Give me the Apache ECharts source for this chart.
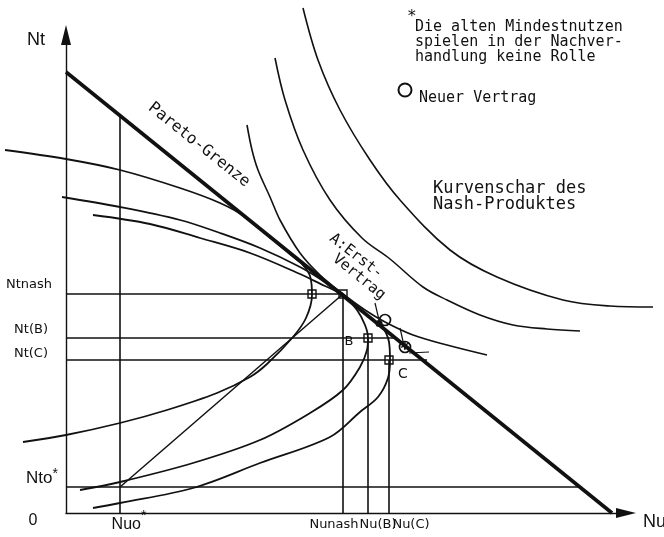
<!DOCTYPE html>
<html>
<head>
<meta charset="utf-8">
<script src="https://cdn.jsdelivr.net/npm/echarts@6/dist/echarts.min.js"></script>
<style>
html, body { margin: 0; padding: 0; background: #fff; }
#chart { width: 664px; height: 537px; }
</style>
</head>
<body>
<div id="chart"></div>
<script>
// utility units (Nu, Nt)
var paretoFrontier = [[0, 88.2], [109.2, 0]];

var nashCurve1 = [[36.2, 77.6], [37.2, 72.6], [38.4, 68.6], [40.8, 63.2], [42.8, 58.6], [46.8, 52.0], [50.8, 47.6],
    [55.4, 43.8], [59.8, 40.6], [63.8, 38.2], [69.4, 35.6], [76.2, 33.6], [84.2, 31.6]];
var nashCurve2 = [[41.8, 91.0], [43.8, 82.6], [47.4, 72.6], [52.8, 62.6], [59.2, 55.0], [64.8, 50.8], [71.4, 45.2],
    [76.2, 42.6], [82.8, 39.6], [89.4, 37.6], [96.2, 36.8], [102.8, 36.4]];
var nashCurve3 = [[47.4, 101.0], [50.4, 90.6], [54.8, 80.6], [60.8, 70.6], [66.8, 62.6], [76.8, 52.6], [86.2, 47.2],
    [99.4, 42.6], [108.8, 41.4], [117.4, 41.2]];

var tCurve1 = [[-12.2, 72.6], [0, 70.8], [10.8, 68.6], [22.8, 65.0], [30.8, 62.0], [35.8, 59.2], [44.8, 51.8], [54.8, 43.9]];
var tCurve2 = [[-0.8, 63.2], [10.8, 61.2], [22.8, 58.6], [30.8, 56.0], [38.8, 53.0], [46.8, 49.2], [51.8, 46.2], [55.4, 43.8]];
var tCurve3 = [[5.4, 59.6], [16.8, 57.8], [26.8, 55.0], [36.8, 52.0], [46.8, 47.8], [51.8, 45.4], [55.4, 43.8]];

var uCurve1 = [[-8.6, 14.2], [0, 15.6], [10.8, 18.0], [20.2, 20.6], [30.2, 24.0], [36.8, 27.2], [40.2, 29.8],
    [45.4, 35.2], [48.0, 39.0], [49.2, 43.6], [48.8, 47.4], [47.2, 49.8]];
var uCurve2 = [[2.8, 4.6], [10.8, 6.2], [25.4, 10.0], [38.8, 14.6], [48.8, 20.0], [55.4, 24.6], [58.8, 29.2],
    [60.2, 32.6], [60.4, 35.0], [59.8, 37.6], [58.2, 40.6], [55.4, 43.8]];
var uCurve3 = [[5.4, 1.0], [10.8, 2.0], [25.4, 5.0], [38.8, 10.0], [52.8, 15.2], [58.8, 20.2], [62.4, 23.2],
    [64.4, 27.0], [64.8, 30.6], [64.6, 34.2], [63.6, 36.8], [62.4, 38.2]];

var disagreement = [10.8, 5.2];
var nashPoint = [55.4, 43.8];
var pointB = [60.4, 35.0];
var pointC = [64.6, 30.6];
var pointU1 = [49.2, 43.8];
var firstContract = [62.6, 37.9];
var newContract = [63.8, 38.6];
var starPoint = [67.8, 33.2];

var guideLines = [
    [[10.8, 0], [10.8, 79.5]],
    [[0, 5.2], [103.0, 5.2]],
    [[0, 43.8], [55.4, 43.8]],
    [[55.4, 0], [55.4, 43.8]],
    [[0, 35.0], [66.0, 35.0]],
    [[60.4, 0], [60.4, 35.0]],
    [[0, 30.6], [72.2, 30.6]],
    [[64.6, 0], [64.6, 30.6]]
];
var leaderLines = [
    [[61.8, 42.0], [62.6, 38.6]],
    [[66.8, 37.0], [67.8, 32.6]],
    [[68.6, 32.0], [72.6, 32.2]]
];

var xTickValues = [0, 10.8, 55.4, 60.4, 64.6];
var xTickLabels = ['0', 'Nuo*', 'Nunash', 'Nu(B)', 'Nu(C)'];
var yTickValues = [5.2, 30.6, 35.0, 43.8];
var yTickLabels = ['Nto*', 'Nt(C)', 'Nt(B)', 'Ntnash'];

var ink = '#111';

function curve (data, width, smooth) {
    return {
        type: 'line', data: data, symbol: 'none', clip: false, silent: true,
        xAxisIndex: 0, yAxisIndex: 0,
        smooth: smooth ? 0.35 : false,
        lineStyle: { color: ink, width: width }
    };
}

function starLabel (text, style, starStyle) {
    if (text.charAt(text.length - 1) === '*') {
        return '{' + style + '|' + text.slice(0, -1) + '}{' + starStyle + '|*}';
    }
    return '{' + style + '|' + text + '}';
}

var series = [];
series.push(curve(paretoFrontier, 3.6, false));
[nashCurve1, nashCurve2, nashCurve3].forEach(function (c) { series.push(curve(c, 1.6, true)); });
[tCurve1, tCurve2, tCurve3].forEach(function (c) { series.push(curve(c, 1.8, true)); });
[uCurve1, uCurve2, uCurve3].forEach(function (c) { series.push(curve(c, 1.8, true)); });
guideLines.forEach(function (g) { series.push(curve(g, 1.6, false)); });
series.push(curve([disagreement, nashPoint], 1.5, false));
leaderLines.forEach(function (g) { series.push(curve(g, 1.2, false)); });

series.push({
    type: 'scatter', data: [pointU1, nashPoint, pointB, pointC], symbol: 'rect', symbolSize: 8,
    clip: false, silent: true, z: 5,
    itemStyle: { color: 'transparent', borderColor: ink, borderWidth: 1.4, opacity: 1 }
});
series.push({
    type: 'scatter', data: [newContract, starPoint], symbol: 'circle', symbolSize: 11,
    clip: false, silent: true, z: 5,
    itemStyle: { color: 'transparent', borderColor: ink, borderWidth: 1.7, opacity: 1 }
});
series.push({
    type: 'scatter', data: [firstContract], symbol: 'circle', symbolSize: 7,
    clip: false, silent: true, z: 5, itemStyle: { color: ink, opacity: 1 }
});
series.push({
    type: 'scatter', data: [starPoint], symbolSize: 0, clip: false, silent: true, z: 6,
    itemStyle: { opacity: 1 },
    label: { show: true, position: 'inside', formatter: '*', color: ink, fontSize: 17,
        fontFamily: 'DejaVu Sans', fontWeight: 'bold', offset: [0, 3] }
});

// x tick labels sit under the guide lines, nudged like in the drawing
var xLabelOffsets = [[-33, 0], [9, -4], [-9, 5], [10, 5], [22, 5]];
series.push({
    type: 'scatter', symbolSize: 0, clip: false, silent: true, z: 6,
    itemStyle: { color: ink, opacity: 1 },
    data: xTickValues.map(function (v, i) {
        return { value: [v, 0], label: { offset: xLabelOffsets[i] } };
    }),
    label: {
        show: true, position: 'bottom', distance: 0, color: ink,
        formatter: function (p) {
            return starLabel(xTickLabels[p.dataIndex], p.dataIndex < 2 ? 'big' : 'small', 'star');
        },
        rich: {
            big: { fontFamily: 'Liberation Sans', fontSize: 16, verticalAlign: 'bottom', color: ink },
            star: { fontFamily: 'Liberation Sans', fontSize: 14, padding: [0, 0, 10, 0], verticalAlign: 'top', color: ink },
            small: { fontFamily: 'DejaVu Sans', fontSize: 13, color: ink }
        }
    }
});

var mono = 'DejaVu Sans Mono';
function txt (text, x, y, size, opts) {
    opts = opts || {};
    return {
        type: 'text', x: x, y: y, rotation: opts.rotation || 0, silent: true,
        style: {
            text: text, fill: ink, fontFamily: opts.family || mono, fontSize: size,
            textAlign: opts.align || 'left', textVerticalAlign: opts.valign || 'middle',
            lineHeight: opts.lineHeight
        }
    };
}

var axisArrow = { onZero: false, symbol: ['none', 'triangle'], symbolSize: [10, 20],
    lineStyle: { color: ink, width: 1.4 } };

var option = {
    animation: false,
    backgroundColor: '#fff',
    grid: [
        { left: -4, right: 8, top: 35, bottom: 24, outerBoundsMode: 'none' },
        { left: 66, right: 38, top: 35, bottom: 24, outerBoundsMode: 'none' }
    ],
    xAxis: [
        { type: 'value', gridIndex: 0, min: -14, max: 118, show: false },
        {
            type: 'value', gridIndex: 1, min: 0, max: 112,
            name: 'Nu', nameLocation: 'end', nameGap: 17,
            nameTextStyle: { color: ink, fontFamily: 'Liberation Sans', fontSize: 18,
                align: 'left', verticalAlign: 'top' },
            splitLine: { show: false },
            axisTick: { show: false },
            axisLabel: { show: false },
            axisLine: axisArrow
        }
    ],
    yAxis: [
        { type: 'value', gridIndex: 0, min: 0, max: 95.6, show: false },
        {
            type: 'value', gridIndex: 1, min: 0, max: 95.6,
            name: 'Nt', nameLocation: 'end', nameGap: -5,
            nameTextStyle: { color: ink, fontFamily: 'Liberation Sans', fontSize: 18,
                align: 'right', verticalAlign: 'middle', padding: [0, 21, 0, 0] },
            splitLine: { show: false },
            axisTick: { show: false },
            axisLine: axisArrow,
            axisLabel: {
                customValues: yTickValues, margin: 8, hideOverlap: false, color: ink,
                verticalAlign: 'bottom',
                formatter: function (v) {
                    var i = yTickValues.indexOf(v);
                    return starLabel(yTickLabels[i], 'y' + i, 'ys');
                },
                rich: {
                    y0: { fontFamily: 'Liberation Sans', fontSize: 17, verticalAlign: 'bottom', color: ink },
                    ys: { fontFamily: 'Liberation Sans', fontSize: 14, padding: [0, 0, 6, 0], verticalAlign: 'top', color: ink },
                    y1: { fontFamily: 'DejaVu Sans', fontSize: 13, padding: [0, 10, 0, 0], color: ink },
                    y2: { fontFamily: 'DejaVu Sans', fontSize: 13, padding: [0, 10, 2, 0], color: ink },
                    y3: { fontFamily: 'DejaVu Sans', fontSize: 13, padding: [0, 6, 3, 0], color: ink }
                }
            }
        }
    ],
    graphic: [
        txt('Pareto-Grenze', 199, 145, 16, { align: 'center', rotation: -0.675 }),
        txt('A:Erst-', 356, 256, 15, { align: 'center', rotation: -0.66 }),
        txt('Vertrag', 359, 277, 15, { align: 'center', rotation: -0.68 }),
        txt('B', 349, 342, 13, { align: 'center', family: 'DejaVu Sans' }),
        txt('C', 403, 374, 14, { align: 'center', family: 'DejaVu Sans' }),
        txt('*', 407, 17, 16),
        txt('Die alten Mindestnutzen\nspielen in der Nachver-\nhandlung keine Rolle', 415, 20, 15,
            { valign: 'top', lineHeight: 15 }),
        { type: 'circle', shape: { cx: 405, cy: 90, r: 6.5 }, silent: true,
            style: { fill: 'none', stroke: ink, lineWidth: 2 } },
        txt('Neuer Vertrag', 419, 98, 15),
        txt('Kurvenschar des\nNash-Produktes', 433, 181, 17, { valign: 'top', lineHeight: 16 })
    ],
    series: series
};

var chart = echarts.init(document.getElementById('chart'));
chart.setOption(option);
</script>
</body>
</html>
